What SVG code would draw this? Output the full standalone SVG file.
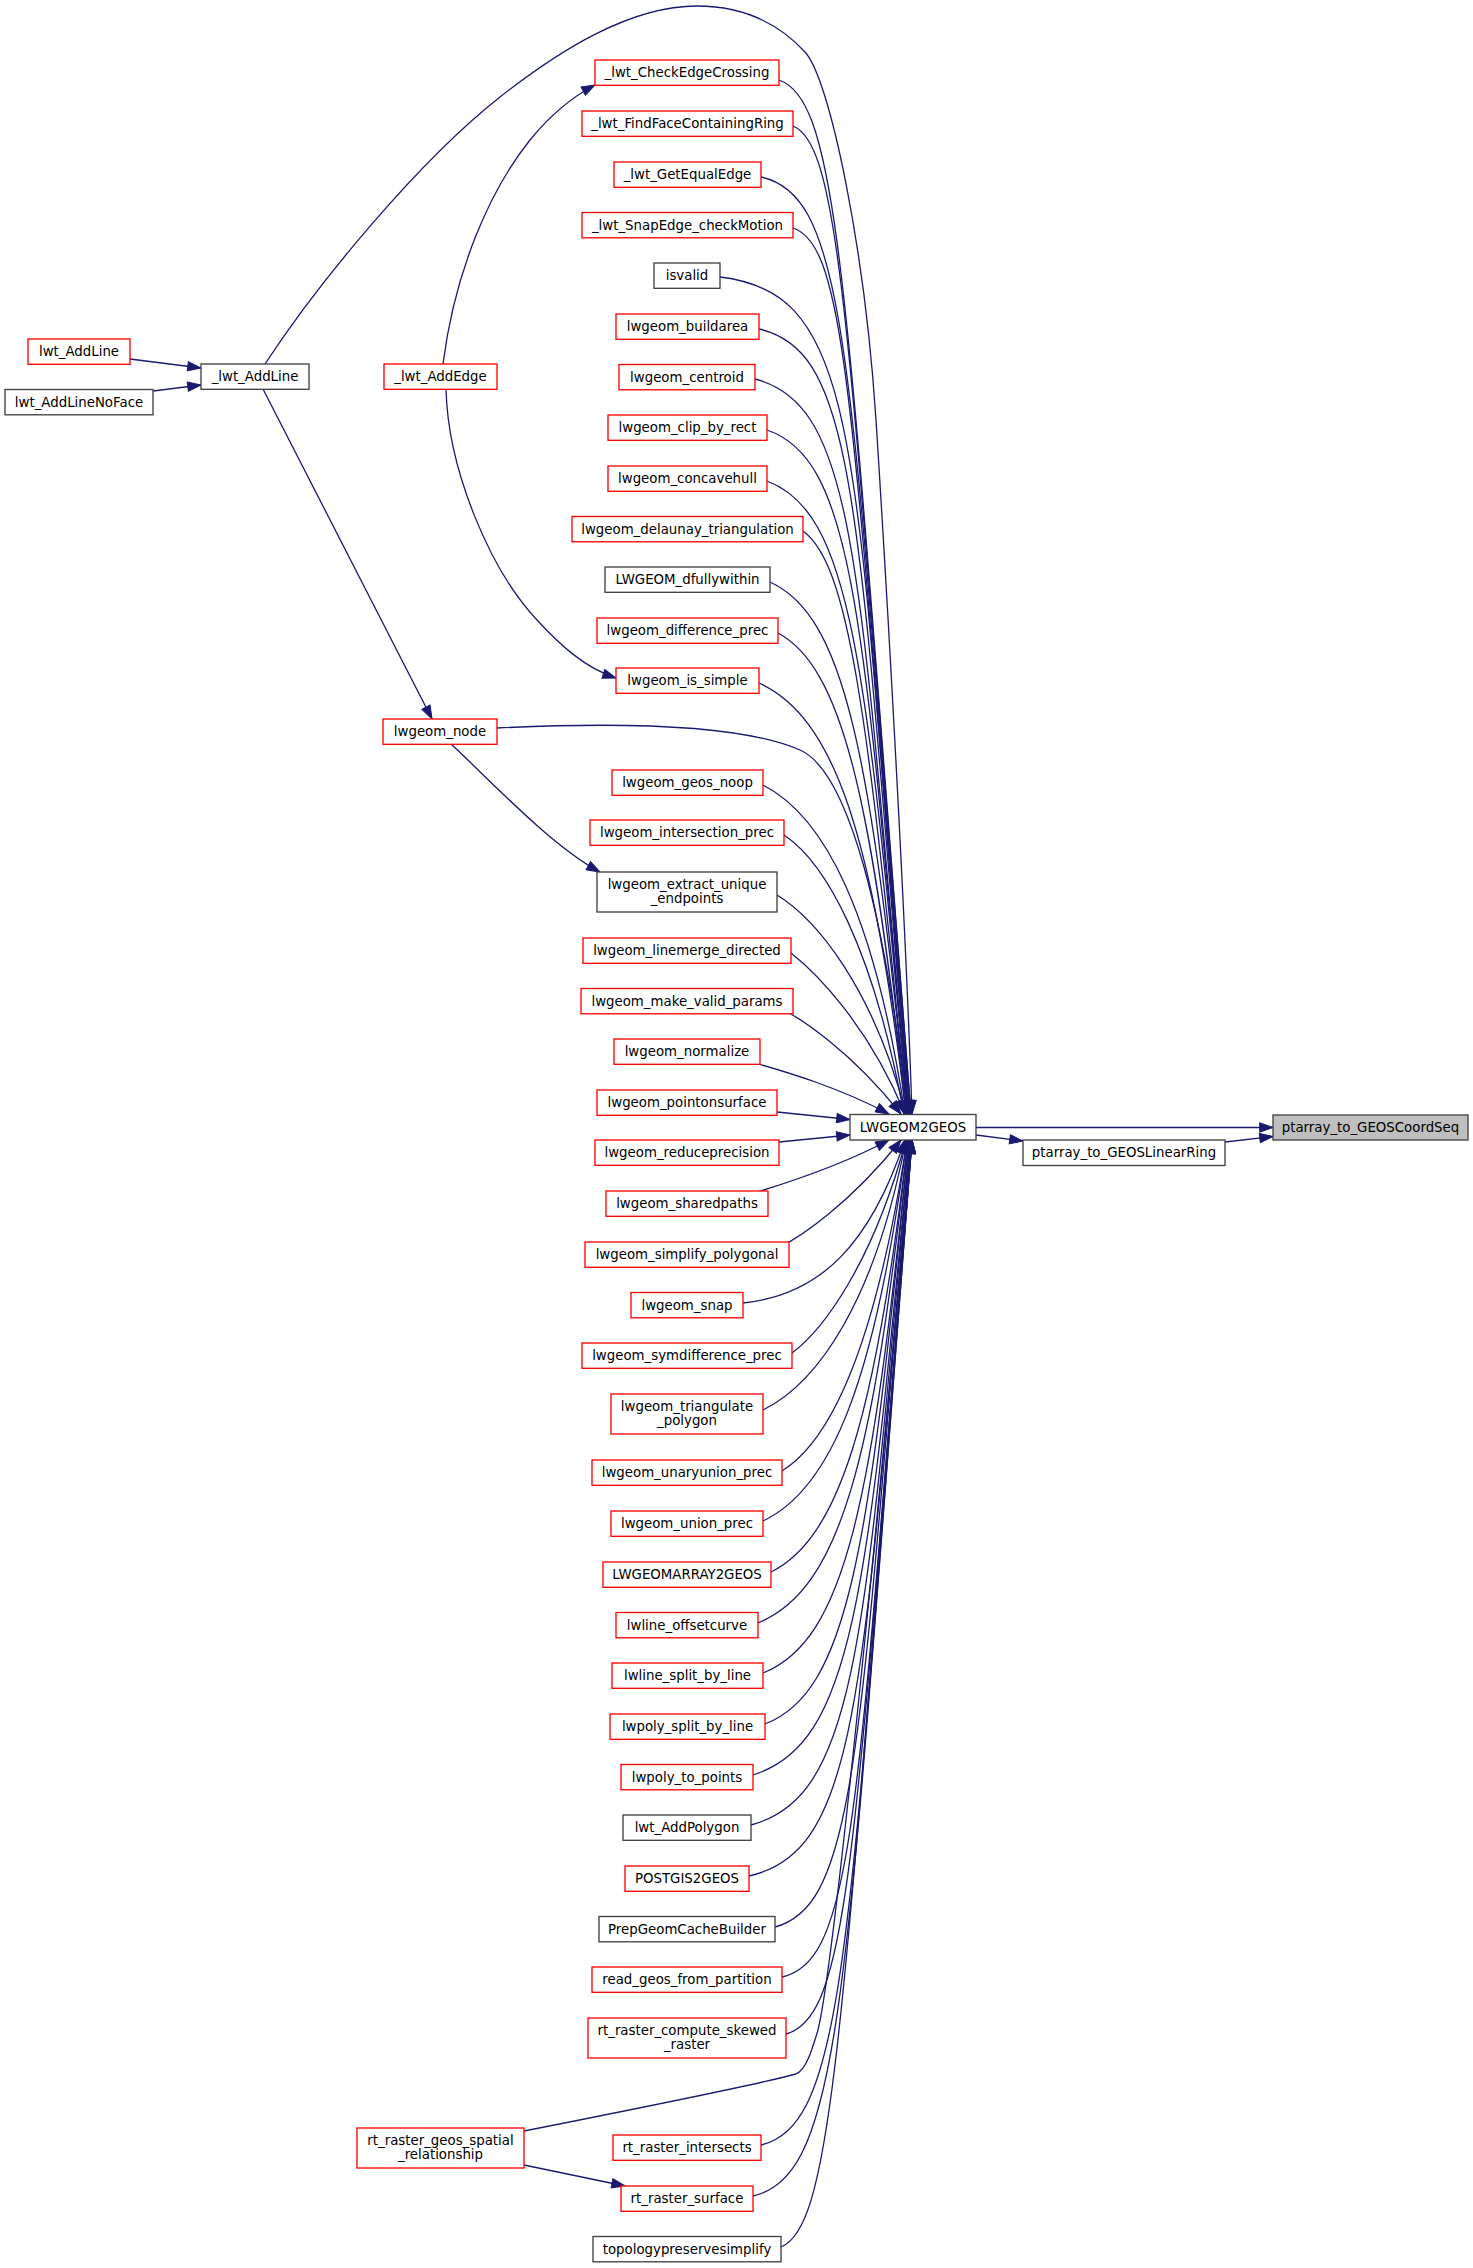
<svg xmlns="http://www.w3.org/2000/svg" width="1473" height="2268" viewBox="0 0 1473 2268">
<style>
.e{fill:none;stroke:#191970;stroke-width:1.3;marker-end:url(#ah)}
.n rect{fill:#ffffff;stroke-width:1.33}
.r rect{stroke:#ff0000}
.k rect{stroke:#404040}
.g rect{fill:#bfbfbf;stroke:#404040}
text{font-family:"DejaVu Sans","Liberation Sans",sans-serif;font-size:13.33px;text-anchor:middle;fill:#000000}
</style>
<defs>
<marker id="ah" markerUnits="userSpaceOnUse" markerWidth="15" markerHeight="11" viewBox="-1 -1 15 11" refX="13.3" refY="4.67" orient="auto">
<path d="M0,0 L13.3,4.67 L0,9.33 z" fill="#191970" stroke="#191970" stroke-width="1"/>
</marker>
</defs>
<rect x="0" y="0" width="1473" height="2268" fill="#ffffff"/>
<g id="connectors">
<path class="e" d="M976,1127.5 L1273,1127.5"/>
<path class="e" d="M976,1135 L1023,1141"/>
<path class="e" d="M1225,1142 L1273,1136.5"/>
<path class="e" d="M130,359 L201,368"/>
<path class="e" d="M153,391 L201,385"/>
<path class="e" d="M265,364 C320,280 420,160 500,97 C560,50 630,6 697,6 C745,6 780,25 805,52 C830,79 865,250 876,420 C885,560 905,900 912,1114"/>
<path class="e" d="M263,389 L432,719"/>
<path class="e" d="M443,364 C455,270 490,190 530,140 C552,113 572,97 595,85"/>
<path class="e" d="M446,389 C448,470 490,570 537,620 C560,645 585,668 616,678"/>
<path class="e" d="M451,744 C490,780 550,845 600,872"/>
<path class="e" d="M497,728 C620,722 740,724 800,750 C850,772 885,920 908,1114"/>
<path class="e" d="M524,2165 L625,2186"/>
<path class="e" d="M524,2131 C620,2112 760,2084 796,2074 C806,2070 812,2050 818,2030 C835,1960 880,1500 912,1140"/>
<path class="e" d="M779,80 C840,101 846,287 911,1114"/>
<path class="e" d="M793,126 C841,146 848,324 911,1114"/>
<path class="e" d="M761,177 C850,196 850,364 910,1114"/>
<path class="e" d="M793,228 C847,246 852,405 910,1114"/>
<path class="e" d="M720,277 C864,294 854,444 909,1114"/>
<path class="e" d="M759,329 C857,351 857,502 909,1114"/>
<path class="e" d="M755,379 C855,405 859,554 908,1114"/>
<path class="e" d="M767,430 C852,459 863,605 908,1114"/>
<path class="e" d="M767,481 C850,512 866,654 908,1114"/>
<path class="e" d="M803,531 C848,564 867,701 907,1114"/>
<path class="e" d="M770,582 C844,616 870,747 907,1114"/>
<path class="e" d="M778,633 C841,667 871,791 906,1114"/>
<path class="e" d="M759,683 C834,717 873,832 906,1114"/>
<path class="e" d="M763,785 C824,816 874,911 905,1114"/>
<path class="e" d="M784,835 C826,863 873,947 904,1114"/>
<path class="e" d="M777,895 C816,919 873,987 906,1114"/>
<path class="e" d="M791,953 C815,972 868,1024 905,1114"/>
<path class="e" d="M780,1008 C800,1018 850,1050 901,1114"/>
<path class="e" d="M755,1063 C790,1073 840,1088 889,1114"/>
<path class="e" d="M777,1112 L850,1119.5"/>
<path class="e" d="M779,1142 L850,1135"/>
<path class="e" d="M757,1192 C790,1182 840,1166 889,1140"/>
<path class="e" d="M780,1247 C800,1237 850,1204 901,1140"/>
<path class="e" d="M743,1303 C820,1295 870,1245 905,1140"/>
<path class="e" d="M792,1353 C823,1330 873,1263 906,1140"/>
<path class="e" d="M763,1410 C818,1383 875,1301 906,1140"/>
<path class="e" d="M782,1471 C832,1440 876,1345 907,1140"/>
<path class="e" d="M763,1521 C831,1489 875,1383 907,1140"/>
<path class="e" d="M771,1572 C838,1539 875,1423 908,1140"/>
<path class="e" d="M758,1623 C840,1589 873,1465 908,1140"/>
<path class="e" d="M763,1673 C845,1640 872,1508 909,1140"/>
<path class="e" d="M765,1724 C848,1692 869,1554 909,1140"/>
<path class="e" d="M753,1775 C852,1744 867,1602 910,1140"/>
<path class="e" d="M751,1825 C855,1797 865,1651 910,1140"/>
<path class="e" d="M749,1876 C858,1851 862,1702 911,1140"/>
<path class="e" d="M775,1927 C856,1905 859,1755 911,1140"/>
<path class="e" d="M782,1977 C855,1961 857,1810 912,1140"/>
<path class="e" d="M786,2034 C850,2016 854,1855 912,1140"/>
<path class="e" d="M761,2145 C847,2125 849,1944 912,1140"/>
<path class="e" d="M753,2196 C845,2175 846,1985 912,1140"/>
<path class="e" d="M781,2247 C834,2225 843,2026 911,1140"/>
</g>
<g id="n_coordseq" class="n g"><rect x="1273" y="1115" width="195" height="25"/><text x="1370.5" y="1132">ptarray_to_GEOSCoordSeq</text></g>
<g id="n_linearring" class="n k"><rect x="1023" y="1140" width="202" height="25.5"/><text x="1124" y="1157">ptarray_to_GEOSLinearRing</text></g>
<g id="n_lwgeom2geos" class="n k"><rect x="850" y="1114.5" width="126" height="25.5"/><text x="913" y="1131.5">LWGEOM2GEOS</text></g>
<g id="n_checkedgecrossing" class="n r"><rect x="595" y="60" width="184" height="25.3"/><text x="687" y="77">_lwt_CheckEdgeCrossing</text></g>
<g id="n_findface" class="n r"><rect x="582" y="111" width="211" height="25.3"/><text x="687.5" y="128">_lwt_FindFaceContainingRing</text></g>
<g id="n_getequaledge" class="n r"><rect x="614" y="162" width="147" height="25.3"/><text x="687.5" y="179">_lwt_GetEqualEdge</text></g>
<g id="n_snapedge" class="n r"><rect x="582" y="212.5" width="211" height="25.3"/><text x="687.5" y="229.5">_lwt_SnapEdge_checkMotion</text></g>
<g id="n_isvalid" class="n k"><rect x="654" y="263" width="66" height="25.3"/><text x="687" y="280">isvalid</text></g>
<g id="n_buildarea" class="n r"><rect x="616" y="314" width="143" height="25.3"/><text x="687.5" y="331">lwgeom_buildarea</text></g>
<g id="n_centroid" class="n r"><rect x="619" y="364.5" width="136" height="25.3"/><text x="687" y="381.5">lwgeom_centroid</text></g>
<g id="n_clipbyrect" class="n r"><rect x="608" y="415" width="159" height="25.3"/><text x="687.5" y="432">lwgeom_clip_by_rect</text></g>
<g id="n_concavehull" class="n r"><rect x="608" y="466" width="159" height="25.3"/><text x="687.5" y="483">lwgeom_concavehull</text></g>
<g id="n_delaunay" class="n r"><rect x="572" y="516.5" width="231" height="25.3"/><text x="687.5" y="533.5">lwgeom_delaunay_triangulation</text></g>
<g id="n_dfullywithin" class="n k"><rect x="605" y="567" width="165" height="25.3"/><text x="687.5" y="584">LWGEOM_dfullywithin</text></g>
<g id="n_differenceprec" class="n r"><rect x="597" y="618" width="181" height="25.3"/><text x="687.5" y="635">lwgeom_difference_prec</text></g>
<g id="n_issimple" class="n r"><rect x="616" y="668" width="143" height="25.3"/><text x="687.5" y="685">lwgeom_is_simple</text></g>
<g id="n_geosnoop" class="n r"><rect x="612" y="770" width="151" height="25.3"/><text x="687.5" y="787">lwgeom_geos_noop</text></g>
<g id="n_intersectionprec" class="n r"><rect x="590" y="820" width="194" height="25.3"/><text x="687" y="837">lwgeom_intersection_prec</text></g>
<g id="n_extractunique" class="n k"><rect x="597" y="872" width="180" height="40"/><text x="687" y="889">lwgeom_extract_unique</text><text x="687" y="902.5">_endpoints</text></g>
<g id="n_linemerge" class="n r"><rect x="583" y="938" width="208" height="25.3"/><text x="687" y="955">lwgeom_linemerge_directed</text></g>
<g id="n_makevalid" class="n r"><rect x="581" y="988.5" width="212" height="25.3"/><text x="687" y="1005.5">lwgeom_make_valid_params</text></g>
<g id="n_normalize" class="n r"><rect x="614" y="1039" width="146" height="25.3"/><text x="687" y="1056">lwgeom_normalize</text></g>
<g id="n_pointonsurface" class="n r"><rect x="597" y="1090" width="180" height="25.3"/><text x="687" y="1107">lwgeom_pointonsurface</text></g>
<g id="n_reduceprecision" class="n r"><rect x="595" y="1140" width="184" height="25.3"/><text x="687" y="1157">lwgeom_reduceprecision</text></g>
<g id="n_sharedpaths" class="n r"><rect x="606" y="1191" width="162" height="25.3"/><text x="687" y="1208">lwgeom_sharedpaths</text></g>
<g id="n_simplifypolygonal" class="n r"><rect x="585" y="1242" width="204" height="25.3"/><text x="687" y="1259">lwgeom_simplify_polygonal</text></g>
<g id="n_snap" class="n r"><rect x="631" y="1292.5" width="112" height="25.3"/><text x="687" y="1309.5">lwgeom_snap</text></g>
<g id="n_symdifference" class="n r"><rect x="582" y="1343" width="210" height="25.3"/><text x="687" y="1360">lwgeom_symdifference_prec</text></g>
<g id="n_triangulate" class="n r"><rect x="611" y="1394" width="152" height="40"/><text x="687" y="1411">lwgeom_triangulate</text><text x="687" y="1424.5">_polygon</text></g>
<g id="n_unaryunion" class="n r"><rect x="592" y="1460" width="190" height="25.3"/><text x="687" y="1477">lwgeom_unaryunion_prec</text></g>
<g id="n_unionprec" class="n r"><rect x="611" y="1511" width="152" height="25.3"/><text x="687" y="1528">lwgeom_union_prec</text></g>
<g id="n_lwgeomarray2geos" class="n r"><rect x="603" y="1562" width="168" height="25.3"/><text x="687" y="1579">LWGEOMARRAY2GEOS</text></g>
<g id="n_offsetcurve" class="n r"><rect x="616" y="1612.5" width="142" height="25.3"/><text x="687" y="1629.5">lwline_offsetcurve</text></g>
<g id="n_linesplit" class="n r"><rect x="612" y="1663" width="151" height="25.3"/><text x="687.5" y="1680">lwline_split_by_line</text></g>
<g id="n_polysplit" class="n r"><rect x="610" y="1714" width="155" height="25.3"/><text x="687.5" y="1731">lwpoly_split_by_line</text></g>
<g id="n_polytopoints" class="n r"><rect x="621" y="1764.5" width="132" height="25.3"/><text x="687" y="1781.5">lwpoly_to_points</text></g>
<g id="n_addpolygon" class="n k"><rect x="623" y="1815" width="128" height="25.3"/><text x="687" y="1832">lwt_AddPolygon</text></g>
<g id="n_postgis2geos" class="n r"><rect x="625" y="1866" width="124" height="25.3"/><text x="687" y="1883">POSTGIS2GEOS</text></g>
<g id="n_prepgeom" class="n k"><rect x="599" y="1916.5" width="176" height="25.3"/><text x="687" y="1933.5">PrepGeomCacheBuilder</text></g>
<g id="n_readgeos" class="n r"><rect x="592" y="1967" width="190" height="25.3"/><text x="687" y="1984">read_geos_from_partition</text></g>
<g id="n_skewed" class="n r"><rect x="588" y="2018" width="198" height="40"/><text x="687" y="2035">rt_raster_compute_skewed</text><text x="687" y="2048.5">_raster</text></g>
<g id="n_rtintersects" class="n r"><rect x="613" y="2135" width="148" height="25.3"/><text x="687" y="2152">rt_raster_intersects</text></g>
<g id="n_rtsurface" class="n r"><rect x="621" y="2186" width="132" height="25.3"/><text x="687" y="2203">rt_raster_surface</text></g>
<g id="n_topology" class="n k"><rect x="593" y="2236.5" width="188" height="25.3"/><text x="687" y="2253.5">topologypreservesimplify</text></g>
<g id="n_addedge" class="n r"><rect x="384" y="364" width="113" height="25.3"/><text x="440.5" y="381">_lwt_AddEdge</text></g>
<g id="n_node" class="n r"><rect x="383" y="719" width="114" height="25.3"/><text x="440" y="736">lwgeom_node</text></g>
<g id="n_geosspatial" class="n r"><rect x="357" y="2128" width="167" height="40"/><text x="440.5" y="2145">rt_raster_geos_spatial</text><text x="440.5" y="2158.5">_relationship</text></g>
<g id="n_priv_addline" class="n k"><rect x="201" y="364" width="108" height="25.3"/><text x="255" y="381">_lwt_AddLine</text></g>
<g id="n_addline" class="n r"><rect x="28" y="339" width="102" height="25.3"/><text x="79" y="356">lwt_AddLine</text></g>
<g id="n_addlinenoface" class="n k"><rect x="5" y="389.5" width="148" height="25.3"/><text x="79" y="406.5">lwt_AddLineNoFace</text></g>
</svg>
